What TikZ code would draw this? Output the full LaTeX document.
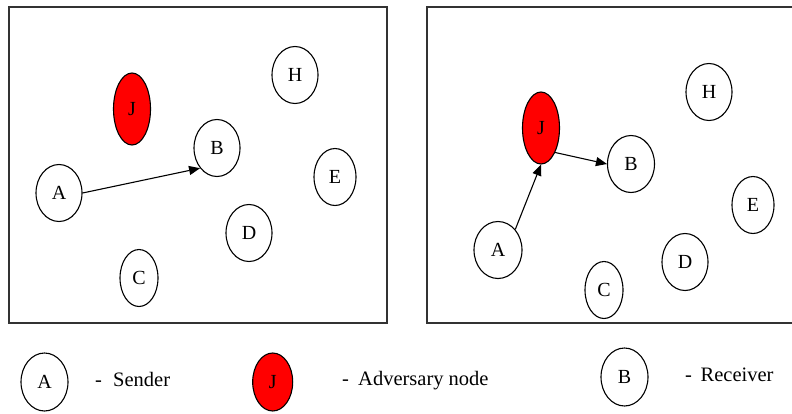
\documentclass[tikz,border=0pt]{standalone}
\usepackage{fontspec}
\setmainfont{Liberation Serif}
\usetikzlibrary{shapes.geometric,arrows.meta}

\tikzset{
  nd/.style={ellipse, draw, line width=1.1pt, inner sep=0pt,
    minimum width=46pt, minimum height=57pt,
    font=\fontsize{20}{24}\selectfont},
  adv/.style={nd, fill=red, minimum width=37pt, minimum height=72pt},
  frame/.style={draw=black!80, line width=1.3pt},
  arr/.style={line width=1.1pt, -{Triangle[length=11pt,width=9pt]}},
  lbl/.style={anchor=base west, inner sep=0pt, font=\fontsize{20.5}{24}\selectfont}
}

\begin{document}
\begin{tikzpicture}[x=1pt, y=-1pt]
  \useasboundingbox (0,0) rectangle (792,413);

  % left panel: direct transmission
  \draw[frame] (9,7) rectangle (387,323);
  \node[adv] (J1) at (132,109) {J};
  \node[nd] (H1) at (295,75) {H};
  \node[nd] (B1) at (217,148) {B};
  \node[nd] (A1) at (59,193) {A};
  \node[nd, minimum width=42pt] (E1) at (335,177) {E};
  \node[nd] (D1) at (249,233) {D};
  \node[nd, minimum width=38pt] (C1) at (139,278) {C};
  \draw[arr] (A1.east) -- (B1.230);

  % right panel: traffic relayed through the adversary
  \draw[frame] (427,7) rectangle (805,323);
  \node[adv] (J2) at (541,128) {J};
  \node[nd] (H2) at (709,92) {H};
  \node[nd, minimum width=47pt] (B2) at (631,164) {B};
  \node[nd, minimum width=42pt] (E2) at (753,205) {E};
  \node[nd, minimum width=48pt] (A2) at (498,250) {A};
  \node[nd] (D2) at (685,262) {D};
  \node[nd, minimum width=38pt] (C2) at (604,290) {C};
  \draw[arr] (A2.50) -- (J2.south);
  \draw[arr] (J2.300) -- (B2.west);

  % legend
  \node[nd, minimum width=47pt, minimum height=58pt] (LA) at (44.5,382) {A};
  \node[lbl] (LAd) at (95,386.5) {-};
  \node[lbl] (LAt) at (113,386.5) {Sender};

  \node[adv, minimum width=40pt, minimum height=58pt] (LJ) at (272.7,382) {J};
  \node[lbl] (LJd) at (342,385.5) {-};
  \node[lbl] (LJt) at (358,385.5) {Adversary node};

  \node[nd, minimum width=47pt, minimum height=58pt] (LB) at (624.5,377) {B};
  \node[lbl] (LBd) at (685,381.5) {-};
  \node[lbl] (LBt) at (700.5,381.5) {Receiver};
\end{tikzpicture}
\end{document}
